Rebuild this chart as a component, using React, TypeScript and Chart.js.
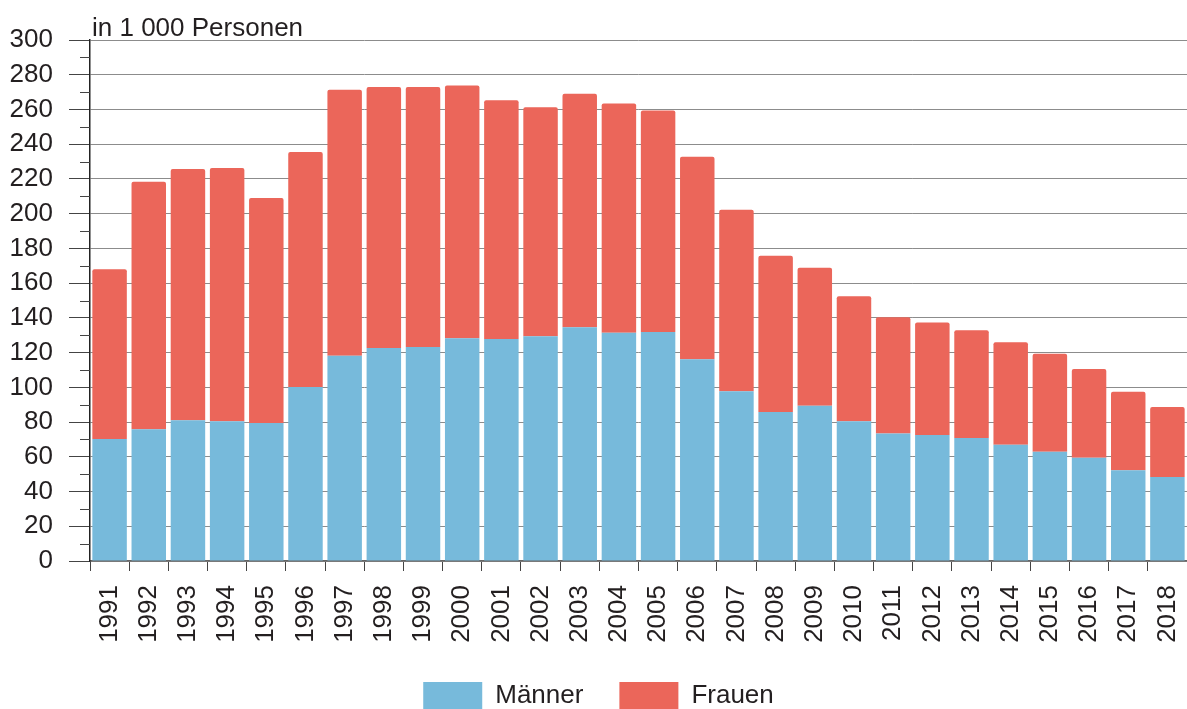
import React, { useEffect, useRef } from "react";
import { Chart, registerables } from "chart.js";

Chart.register(...registerables);

const years = [
  "1991", "1992", "1993", "1994", "1995", "1996", "1997", "1998", "1999", "2000",
  "2001", "2002", "2003", "2004", "2005", "2006", "2007", "2008", "2009", "2010",
  "2011", "2012", "2013", "2014", "2015", "2016", "2017", "2018",
];

const maenner = [
  70.3, 75.9, 81.1, 80.5, 79.4, 100.2, 118.2, 122.7, 123.2, 128.2,
  127.8, 129.4, 134.6, 131.5, 131.9, 116.1, 97.7, 85.8, 89.4, 80.5,
  73.4, 72.5, 70.8, 67.0, 62.9, 59.4, 52.3, 48.3,
];

const frauen = [
  97.7, 142.5, 144.6, 145.8, 129.6, 135.3, 153.1, 150.3, 149.8, 145.6,
  137.5, 131.9, 134.4, 131.9, 127.5, 116.7, 104.5, 89.9, 79.4, 72.0,
  67.0, 64.8, 62.1, 59.0, 56.5, 51.2, 45.2, 40.4,
];

const seriesNames = ["Männer", "Frauen"];
const unitLabel = "in 1 000 Personen";
const yMin = 0;
const yMax = 300;
const yStep = 20;
const yMinorStep = 10;

const FONT = '"Liberation Sans", Arial, Helvetica, sans-serif';
const TEXT = "#231f20";
const BLUE = "#77badb";
const RED = "#eb665a";

const extrasPlugin = {
  id: "extras",
  afterDraw(chart: any) {
    const { ctx, chartArea, scales } = chart;
    const y = scales.y;
    ctx.save();
    ctx.strokeStyle = "#444";
    ctx.lineWidth = 1;
    for (let v = yMin + yMinorStep; v < yMax; v += yStep) {
      const py = Math.round(y.getPixelForValue(v)) + 0.5;
      ctx.beginPath();
      ctx.moveTo(chartArea.left - 10, py);
      ctx.lineTo(chartArea.left, py);
      ctx.stroke();
    }
    ctx.font = `26px ${FONT}`;
    ctx.fillStyle = TEXT;
    ctx.textBaseline = "alphabetic";
    ctx.textAlign = "left";
    ctx.fillText(unitLabel, chartArea.left + 2, 36);
    ctx.restore();
  },
};

export default function App() {
  const ref = useRef<HTMLCanvasElement | null>(null);

  useEffect(() => {
    if (!ref.current) return;
    const chart = new Chart(ref.current, {
      type: "bar",
      data: {
        labels: years,
        datasets: [
          {
            label: seriesNames[0],
            data: maenner,
            backgroundColor: BLUE,
            borderWidth: 0,
            barPercentage: 0.88,
            categoryPercentage: 1,
          },
          {
            label: seriesNames[1],
            data: frauen,
            backgroundColor: RED,
            borderWidth: 0,
            borderRadius: { topLeft: 2, topRight: 2, bottomLeft: 0, bottomRight: 0 },
            borderSkipped: false,
            barPercentage: 0.88,
            categoryPercentage: 1,
          },
        ],
      },
      options: {
        responsive: false,
        animation: false,
        devicePixelRatio: 1,
        layout: { padding: { left: 10, right: 0, top: 40, bottom: -10 } },
        plugins: {
          legend: {
            position: "bottom",
            labels: {
              boxWidth: 59,
              boxHeight: 27,
              padding: 36,
              color: TEXT,
              font: { family: FONT, size: 26 },
            },
          },
          tooltip: { enabled: false },
          title: { display: false },
        },
        scales: {
          x: {
            stacked: true,
            offset: true,
            afterFit(scale: any) {
              scale.paddingLeft = 0;
              scale.paddingRight = 0;
              scale.height = 85;
            },
            grid: {
              display: true,
              drawOnChartArea: false,
              offset: true,
              tickLength: 10,
              tickColor: "#444",
            },
            border: { display: true, color: "#666", width: 1.5 },
            ticks: {
              autoSkip: false,
              minRotation: 90,
              maxRotation: 90,
              padding: 14,
              color: TEXT,
              font: { family: FONT, size: 26 },
            },
          },
          y: {
            stacked: true,
            min: yMin,
            max: yMax,
            afterFit(scale: any) {
              scale.width = 80;
            },
            grid: {
              color: "#8c8c8c",
              lineWidth: 1,
              tickLength: 21,
              tickColor: "#444",
            },
            border: { display: true, color: "#222", width: 1.5 },
            ticks: {
              autoSkip: false,
              stepSize: yStep,
              padding: 16,
              color: TEXT,
              font: { family: FONT, size: 26 },
            },
          },
        },
      },
      plugins: [extrasPlugin],
    });
    return () => chart.destroy();
  }, []);

  return (
    <div style={{ position: "fixed", left: 0, top: 0, width: 1187, height: 709, overflow: "hidden", background: "#fff" }}>
      <canvas ref={ref} width={1187} height={709} style={{ display: "block" }} />
    </div>
  );
}
